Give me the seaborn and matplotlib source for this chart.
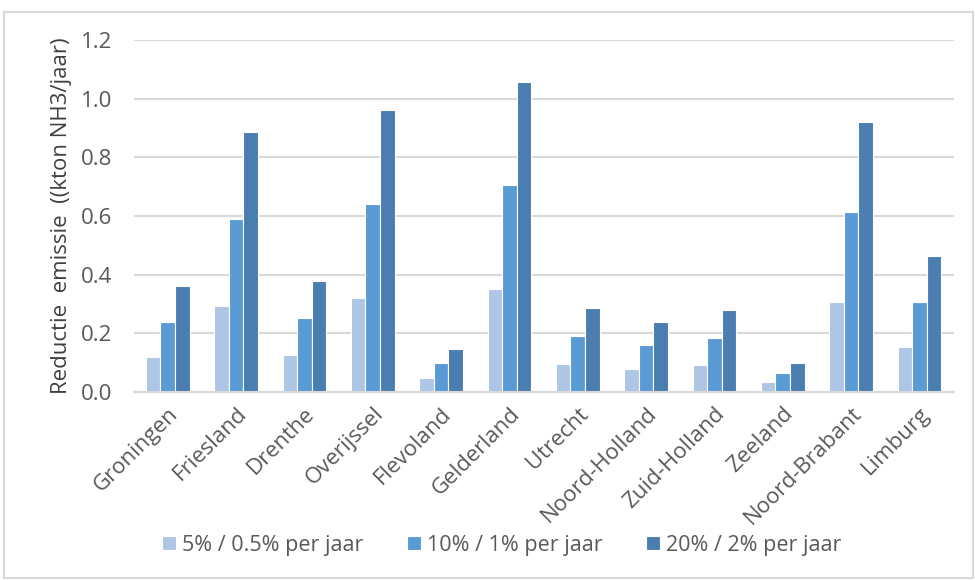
import matplotlib
matplotlib.use("Agg")
import matplotlib.pyplot as plt
from matplotlib.patches import Rectangle
import seaborn as sns
import pandas as pd

provinces = ["Groningen", "Friesland", "Drenthe", "Overijssel", "Flevoland",
             "Gelderland", "Utrecht", "Noord-Holland", "Zuid-Holland", "Zeeland",
             "Noord-Brabant", "Limburg"]
series_names = ["5% / 0.5% per jaar", "10% / 1% per jaar", "20% / 2% per jaar"]
low = [0.118, 0.294, 0.128, 0.320, 0.047, 0.352, 0.097, 0.078, 0.092, 0.034, 0.307, 0.155]
mid = [0.240, 0.590, 0.253, 0.640, 0.098, 0.706, 0.191, 0.160, 0.186, 0.066, 0.613, 0.307]
high = [0.360, 0.886, 0.380, 0.960, 0.146, 1.057, 0.285, 0.240, 0.281, 0.098, 0.920, 0.464]
y_ticks = [0.0, 0.2, 0.4, 0.6, 0.8, 1.0, 1.2]

df = pd.DataFrame({
    "provincie": provinces * 3,
    "scenario": [s for s in series_names for _ in provinces],
    "waarde": low + mid + high,
})

colors = ["#AEC5E6", "#5B9BD5", "#4A7EB0"]
text_gray = "#595959"

sns.set_theme(style="white")
plt.rcParams["font.family"] = ["Open Sans", "DejaVu Sans"]

fig = plt.figure(figsize=(9.75, 5.8), dpi=100)
ax = fig.add_axes([0.137, 0.324, 0.841, 0.607])

sns.barplot(data=df, x="provincie", y="waarde", hue="scenario",
            palette=colors, saturation=1, width=0.64, edgecolor="white",
            linewidth=0.8, ax=ax, legend=True)

ax.set_ylim(0, 1.2)
ax.set_yticks(y_ticks)
ax.set_yticklabels([f"{t:.1f}" for t in y_ticks], color=text_gray, fontsize=16)
ax.yaxis.grid(True, color="#D9D9D9", linewidth=1.5)
ax.set_axisbelow(True)
for side in ["top", "right", "left"]:
    ax.spines[side].set_visible(False)
ax.spines["bottom"].set_color("#D9D9D9")
ax.spines["bottom"].set_linewidth(1.5)
ax.tick_params(axis="y", length=0, pad=15)
ax.set_xlim(-0.5, len(provinces) - 0.5)
ax.set_xticks(range(len(provinces)))
ax.set_xticklabels(provinces, rotation=45, ha="right", rotation_mode="anchor",
                   color=text_gray, fontsize=16)
ax.tick_params(axis="x", length=0, pad=8)
ax.set_xlabel("")
ax.set_ylabel("Reductie  emissie  ((kton NH3/jaar)", fontsize=16, color="#404040",
              labelpad=7)

handles, labels = ax.get_legend_handles_labels()
ax.legend(handles, labels, loc="center", bbox_to_anchor=(0.449, -0.435), ncol=3,
          frameon=False, fontsize=15.5, handlelength=0.65, handleheight=0.65,
          handletextpad=0.3, columnspacing=2.0, labelcolor=text_gray)

fig.patches.append(Rectangle((0.004, 0.004), 0.994, 0.975, transform=fig.transFigure,
                             fill=False, edgecolor="#D9D9D9", linewidth=1.5))

fig.savefig("out.png", dpi=100, facecolor="white")
